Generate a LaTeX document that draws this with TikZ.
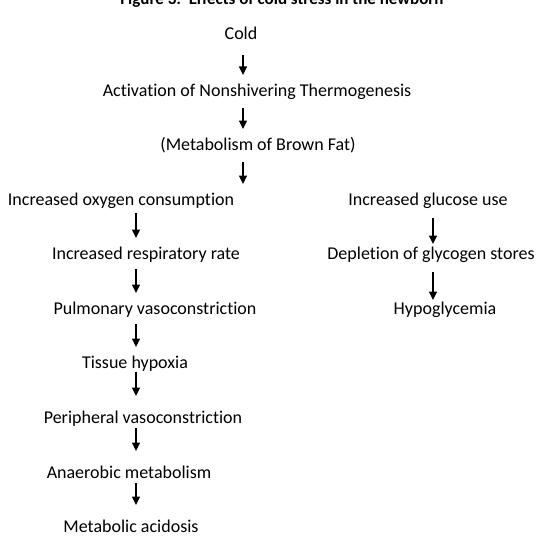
\documentclass[tikz,border=0pt]{standalone}
\usepackage{fontspec}
\setmainfont{Carlito}[Ligatures=NoCommon]
\usetikzlibrary{arrows.meta}
\begin{document}
\begin{tikzpicture}[x=1pt,y=-1pt,
  lbl/.style={anchor=base,inner sep=0pt,font=\fontsize{18}{21}\selectfont},
  ttl/.style={anchor=base,inner sep=0pt,font=\fontsize{17}{20}\selectfont\bfseries},
  arr/.style={line width=1.1pt,-{Triangle[length=8.5pt,width=8pt]}}]
\useasboundingbox (0,0) rectangle (552,551);
\coordinate (cc) at (243,0);
\coordinate (cl) at (136,0);
\coordinate (cr) at (433,0);
\node[ttl] (title) at (282,5) {Figure 3:\ \ Effects of cold stress in the newborn};
\node[lbl] (cold) at (241,40) {Cold};
\node[lbl] (act) at (257,96) {Activation of Nonshivering Thermogenesis};
\node[lbl] (brown) at (258,150) {(Metabolism of Brown Fat)};
\node[lbl] (oxy) at (121,205) {Increased oxygen consumption};
\node[lbl] (glu) at (428,205) {Increased glucose use};
\node[lbl] (resp) at (146,259) {Increased respiratory rate};
\node[lbl] (glyc) at (431,259) {Depletion of glycogen stores};
\node[lbl] (pulm) at (155,314) {Pulmonary vasoconstriction};
\node[lbl] (hypo) at (445,314) {Hypoglycemia};
\node[lbl] (tiss) at (135,368) {Tissue hypoxia};
\node[lbl] (peri) at (143,423) {Peripheral vasoconstriction};
\node[lbl] (anae) at (129,478) {Anaerobic metabolism};
\node[lbl] (acid) at (131,532) {Metabolic acidosis};
\draw[arr] ([yshift=-15pt]cold.base -| cc) -- ([yshift=21pt]act.base -| cc);
\draw[arr] ([yshift=-12pt]act.base -| cc) -- ([yshift=21pt]brown.base -| cc);
\draw[arr] ([yshift=-12pt]brown.base -| cc) -- ([yshift=21pt]oxy.base -| cc);
\draw[arr] ([yshift=-8pt]oxy.base -| cl) -- ([yshift=21pt]resp.base -| cl);
\draw[arr] ([yshift=-10pt]resp.base -| cl) -- ([yshift=21pt]pulm.base -| cl);
\draw[arr] ([yshift=-10pt]pulm.base -| cl) -- ([yshift=21pt]tiss.base -| cl);
\draw[arr] ([yshift=-4pt]tiss.base -| cl) -- ([yshift=27pt]peri.base -| cl);
\draw[arr] ([yshift=-5pt]peri.base -| cl) -- ([yshift=27pt]anae.base -| cl);
\draw[arr] ([yshift=-5pt]anae.base -| cl) -- ([yshift=27pt]acid.base -| cl);
\draw[arr] ([yshift=-13pt]glu.base -| cr) -- ([yshift=15pt]glyc.base -| cr);
\draw[arr] ([yshift=-13pt]glyc.base -| cr) -- ([yshift=14pt]hypo.base -| cr);
\end{tikzpicture}
\end{document}
